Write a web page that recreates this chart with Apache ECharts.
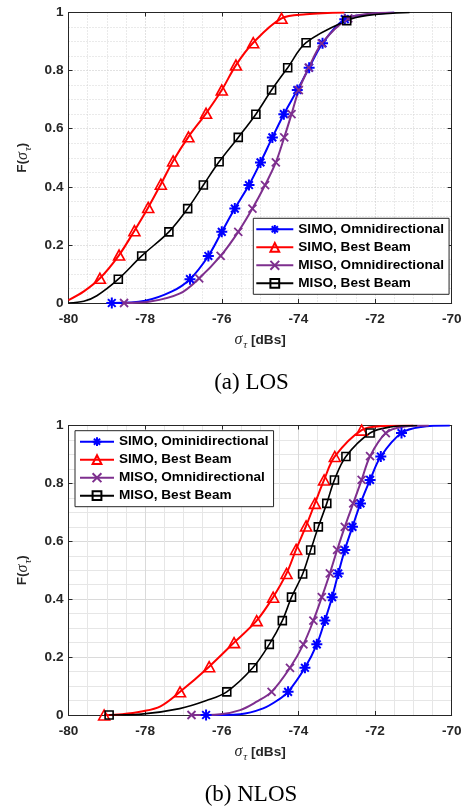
<!DOCTYPE html>
<html><head><meta charset="utf-8">
<script src="https://cdn.jsdelivr.net/npm/echarts@6/dist/echarts.min.js"></script>
<style>html,body{margin:0;padding:0;background:#fff}#c{width:465px;height:806px}</style>
</head><body><div id="c"></div>
<script>
const xTicks = [-80, -78, -76, -74, -72, -70];
const yTicks = [0, 0.2, 0.4, 0.6, 0.8, 1];
const legendLOS = ['SIMO, Omnidirectional', 'SIMO, Best Beam', 'MISO, Omnidirectional', 'MISO, Best Beam'];
const legendNLOS = ['SIMO, Ominidirectional', 'SIMO, Best Beam', 'MISO, Omnidirectional', 'MISO, Best Beam'];
const captions = ['(a) LOS', '(b) NLOS'];

// LOS: marker points and extra curve points
const losSimoOmniMarkers = [[-78.87,0],[-76.83,0.082],[-76.35,0.162],[-76.00,0.245],[-75.66,0.325],[-75.29,0.406],[-74.99,0.484],[-74.68,0.570],[-74.38,0.650],[-74.03,0.733],[-73.72,0.81],[-73.37,0.894],[-72.79,0.977]];
const losSimoOmniCurve = [[-78.0,0.008],[-77.3,0.04],[-72.2,0.993],[-71.5,1.0]];
const losSimoBestMarkers = [[-79.18,0.085],[-78.68,0.165],[-78.28,0.249],[-77.92,0.329],[-77.59,0.409],[-77.27,0.489],[-76.87,0.572],[-76.41,0.653],[-76.00,0.733],[-75.63,0.819],[-75.18,0.896],[-74.44,0.98]];
const losSimoBestCurve = [[-80,0.01],[-79.6,0.04],[-73.8,0.994],[-72.8,1.0]];
const losMisoOmniMarkers = [[-78.55,0],[-76.59,0.085],[-76.03,0.162],[-75.57,0.245],[-75.20,0.325],[-74.87,0.406],[-74.59,0.484],[-74.37,0.570],[-74.18,0.650],[-73.99,0.733],[-73.73,0.81],[-73.39,0.894],[-72.70,0.98]];
const losMisoOmniCurve = [[-77.87,0.005],[-77.09,0.033],[-72.2,0.995],[-71.5,1.0]];
const losMisoBestMarkers = [[-78.70,0.082],[-78.09,0.162],[-77.38,0.245],[-76.89,0.325],[-76.48,0.406],[-76.07,0.486],[-75.57,0.570],[-75.11,0.650],[-74.70,0.733],[-74.28,0.81],[-73.80,0.896],[-72.74,0.972]];
const losMisoBestCurve = [[-80,0.0],[-79.6,0.006],[-79.26,0.025],[-72.2,0.99],[-71.1,1.0]];

// NLOS
const nlosSimoOmniMarkers = [[-76.41,0],[-74.27,0.08],[-73.83,0.163],[-73.52,0.244],[-73.31,0.326],[-73.12,0.407],[-72.96,0.489],[-72.79,0.57],[-72.59,0.65],[-72.38,0.731],[-72.13,0.812],[-71.85,0.893],[-71.31,0.974]];
const nlosSimoOmniCurve = [[-75.52,0.003],[-74.92,0.023],[-74.53,0.052],[-70.8,0.995],[-70.05,1.0]];
const nlosSimoBestMarkers = [[-79.07,0],[-77.09,0.08],[-76.33,0.167],[-75.68,0.25],[-75.09,0.326],[-74.66,0.407],[-74.31,0.489],[-74.06,0.572],[-73.80,0.653],[-73.57,0.731],[-73.33,0.812],[-73.05,0.893],[-72.35,0.984]];
const nlosSimoBestCurve = [[-78.6,0.003],[-78.1,0.012],[-77.6,0.03],[-71.8,0.998],[-71.0,1.0]];
const nlosMisoOmniMarkers = [[-76.79,0],[-74.70,0.08],[-74.22,0.163],[-73.87,0.244],[-73.61,0.326],[-73.39,0.407],[-73.18,0.489],[-72.99,0.57],[-72.79,0.65],[-72.57,0.731],[-72.35,0.812],[-72.13,0.894],[-71.72,0.974]];
const nlosMisoOmniCurve = [[-76.04,0.003],[-75.52,0.017],[-75.09,0.046],[-71.3,0.995],[-70.6,1.0]];
const nlosMisoBestMarkers = [[-78.94,0],[-75.87,0.08],[-75.19,0.163],[-74.76,0.244],[-74.42,0.326],[-74.18,0.407],[-73.89,0.487],[-73.68,0.57],[-73.48,0.65],[-73.26,0.731],[-73.06,0.812],[-72.76,0.893],[-72.13,0.974]];
const nlosMisoBestCurve = [[-78.1,0.003],[-77.1,0.022],[-76.4,0.05],[-71.6,0.995],[-70.9,1.0]];

const AX = '#262626';
const SYM = {
  star: 'path://M0,-10L0,10M-10,0L10,0M-7,-7L7,7M-7,7L7,-7',
  tri: 'path://M0,0L10,17.32L-10,17.32Z',
  cross: 'path://M-1,-1L1,1M-1,1L1,-1',
  square: 'path://M-1,-1L1,-1L1,1L-1,1Z'
};
const grids = [
  {left: 68.5, top: 12.5, width: 383.2, height: 290.5},
  {left: 68.5, top: 425.5, width: 383.2, height: 289.5}
];

function makeSeries(name, gi, markers, curve, color, sym, size, lw, bw) {
  const pts = markers.map(p => ({value: p})).concat(curve.map(p => ({value: p, symbol: 'none'})));
  pts.sort((a, b) => a.value[0] - b.value[0]);
  return {
    type: 'line', name: name, xAxisIndex: gi * 2, yAxisIndex: gi * 2,
    data: pts, symbol: sym, symbolSize: size, smooth: 0.35,
    lineStyle: {color: color, width: lw},
    itemStyle: {color: 'transparent', borderColor: color, borderWidth: bw},
    emphasis: {disabled: true}, animation: false
  };
}

const richName = {
  b: {fontFamily: 'Liberation Sans', fontWeight: 'bold', fontSize: 13.6, color: AX, lineHeight: 22, verticalAlign: 'middle'},
  s: {fontFamily: 'Liberation Serif', fontStyle: 'italic', fontSize: 16, color: AX, lineHeight: 22, verticalAlign: 'middle'},
  t: {fontFamily: 'Liberation Serif', fontStyle: 'italic', fontSize: 11, color: AX, lineHeight: 11, verticalAlign: 'bottom', padding: [0, 0, 0, 1]}
};

const xAxes = [], yAxes = [];
grids.forEach((g, i) => {
  const dotted = i === 0;
  const majorLS = dotted ? {color: '#c4c4c4', type: [1, 2], width: 1} : {color: '#dadada', width: 1};
  const minorLS = dotted ? {color: '#d4d4d4', type: [1, 2], width: 1} : {color: '#e6e6e6', width: 1};
  xAxes.push({
    type: 'value', gridIndex: i, position: 'bottom', min: xTicks[0], max: xTicks[xTicks.length - 1], interval: xTicks[1] - xTicks[0],
    axisLine: {show: true, onZero: false, lineStyle: {color: AX, width: 1}},
    axisTick: {show: true, inside: true, length: 4, lineStyle: {color: AX}},
    axisLabel: {color: AX, fontWeight: 'bold', fontSize: 13.6, fontFamily: 'Liberation Sans', margin: 9},
    splitLine: {show: true, lineStyle: majorLS},
    minorTick: {show: false, splitNumber: 4},
    minorSplitLine: {show: true, lineStyle: minorLS},
    name: '{s|σ}{t|τ}{b| [dBs]}', nameLocation: 'middle', nameGap: 26,
    nameTextStyle: {rich: richName}
  });
  xAxes.push({
    type: 'value', gridIndex: i, position: 'top', min: xTicks[0], max: xTicks[xTicks.length - 1], interval: xTicks[1] - xTicks[0],
    axisLine: {show: true, onZero: false, lineStyle: {color: AX, width: 1}},
    axisTick: {show: true, inside: true, length: 4, lineStyle: {color: AX}},
    axisLabel: {show: false}, splitLine: {show: false}
  });
  yAxes.push({
    type: 'value', gridIndex: i, position: 'left', min: yTicks[0], max: yTicks[yTicks.length - 1], interval: yTicks[1] - yTicks[0],
    axisLine: {show: true, onZero: false, lineStyle: {color: AX, width: 1}},
    axisTick: {show: true, inside: true, length: 4, lineStyle: {color: AX}},
    axisLabel: {color: AX, fontWeight: 'bold', fontSize: 13.6, fontFamily: 'Liberation Sans', margin: 5},
    splitLine: {show: true, lineStyle: majorLS},
    minorTick: {show: false, splitNumber: 4},
    minorSplitLine: {show: true, lineStyle: minorLS},
    name: '{b|F(}{s|σ}{t|τ}{b|)}', nameLocation: 'middle', nameRotate: 90, nameGap: 33,
    nameTextStyle: {rich: richName}
  });
  yAxes.push({
    type: 'value', gridIndex: i, position: 'right', min: yTicks[0], max: yTicks[yTicks.length - 1], interval: yTicks[1] - yTicks[0],
    axisLine: {show: true, onZero: false, lineStyle: {color: AX, width: 1}},
    axisTick: {show: true, inside: true, length: 4, lineStyle: {color: AX}},
    axisLabel: {show: false}, splitLine: {show: false}
  });
});

const series = [
  makeSeries(legendLOS[0], 0, losSimoOmniMarkers, losSimoOmniCurve, '#0000ff', SYM.star, [11, 11], 2, 2),
  makeSeries(legendLOS[1], 0, losSimoBestMarkers, losSimoBestCurve, '#ff0000', SYM.tri, [11, 10], 2, 1.6),
  makeSeries(legendLOS[2], 0, losMisoOmniMarkers, losMisoOmniCurve, '#7e2f8e', SYM.cross, [8, 8], 2, 1.8),
  makeSeries(legendLOS[3], 0, losMisoBestMarkers, losMisoBestCurve, '#000000', SYM.square, [8, 8], 1.6, 1.6),
  makeSeries(legendNLOS[0], 1, nlosSimoOmniMarkers, nlosSimoOmniCurve, '#0000ff', SYM.star, [11, 11], 2, 2),
  makeSeries(legendNLOS[1], 1, nlosSimoBestMarkers, nlosSimoBestCurve, '#ff0000', SYM.tri, [11, 10], 2, 1.6),
  makeSeries(legendNLOS[2], 1, nlosMisoOmniMarkers, nlosMisoOmniCurve, '#7e2f8e', SYM.cross, [8, 8], 2, 1.8),
  makeSeries(legendNLOS[3], 1, nlosMisoBestMarkers, nlosMisoBestCurve, '#000000', SYM.square, [8, 8], 1.6, 1.6)
];

const legendCommon = {
  orient: 'vertical', itemGap: 0, itemHeight: 11, backgroundColor: '#fff',
  borderColor: AX, borderWidth: 1, borderRadius: 0, selectedMode: false,
  textStyle: {fontFamily: 'Liberation Sans', fontWeight: 'bold', fontSize: 13.6, color: '#000', lineHeight: 18}
};

const chart = echarts.init(document.getElementById('c'), null, {renderer: 'canvas'});
chart.setOption({
  animation: false,
  backgroundColor: '#fff',
  grid: grids,
  xAxis: xAxes,
  yAxis: yAxes,
  legend: [
    Object.assign({}, legendCommon, {left: 253.3, top: 218.3, padding: [2, 5, 2, 2], itemWidth: 37, data: legendLOS}),
    Object.assign({}, legendCommon, {left: 75, top: 430.7, padding: [2, 5, 2, 4], itemWidth: 34, data: legendNLOS})
  ],
  graphic: [
    {type: 'text', x: 251.5, y: 383, style: {text: captions[0], fontFamily: 'Liberation Serif', fontSize: 23, fill: '#000', align: 'center', verticalAlign: 'middle'}},
    {type: 'text', x: 251, y: 795, style: {text: captions[1], fontFamily: 'Liberation Serif', fontSize: 23, fill: '#000', align: 'center', verticalAlign: 'middle'}}
  ],
  series: series
});
</script></body></html>
